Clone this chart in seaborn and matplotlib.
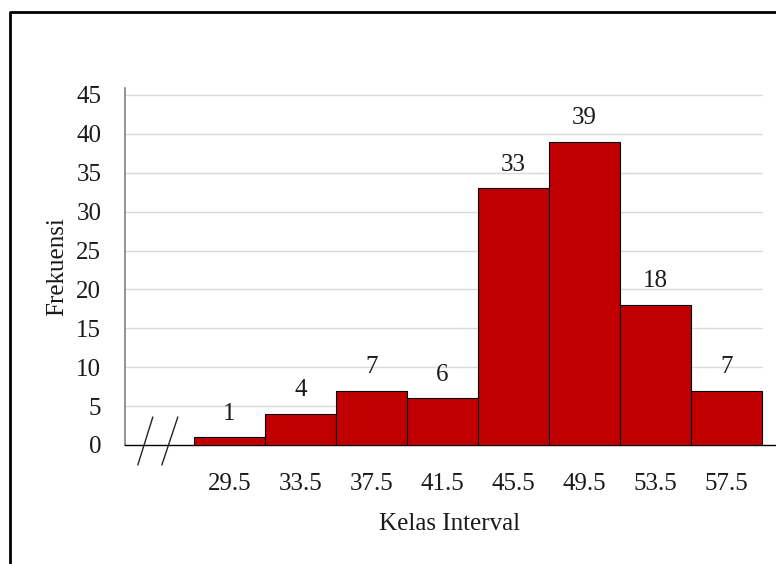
import matplotlib
matplotlib.use("Agg")
import matplotlib.pyplot as plt
from matplotlib.lines import Line2D
import seaborn as sns
import pandas as pd

# Class midpoints and frequencies
kelas = ["29.5", "33.5", "37.5", "41.5", "45.5", "49.5", "53.5", "57.5"]
frekuensi = [1, 4, 7, 6, 33, 39, 18, 7]
y_ticks = [0, 5, 10, 15, 20, 25, 30, 35, 40, 45]

sns.set_theme(style="white")
plt.rcParams["font.family"] = ["Liberation Serif", "DejaVu Serif"]

FS = 18
TXT = "#1a1a1a"

df = pd.DataFrame({"Kelas": kelas, "Frekuensi": frekuensi})

fig = plt.figure(figsize=(7.76, 5.64), dpi=100)
ax = fig.add_axes([0.161, 0.211, 0.8377, 0.633])

sns.barplot(data=df, x="Kelas", y="Frekuensi", color="#C00000",
            saturation=1, width=1.0, edgecolor="black", linewidth=0.8,
            ax=ax, zorder=3)

x_left, x_right = -1.47, 7.68
ax.set_xlim(x_left, x_right)
ax.set_ylim(0, 45.9)

# horizontal gridlines across the bar area
ax.hlines(y_ticks[1:], x_left, len(kelas) - 0.5, colors="#d9d9d9",
          linewidth=1, zorder=1)

ax.set_yticks(y_ticks)
ax.tick_params(axis="y", length=0, pad=17, labelsize=FS, colors=TXT)
ax.tick_params(axis="x", length=0, pad=20, labelsize=FS, colors=TXT)

for s in ["top", "right"]:
    ax.spines[s].set_visible(False)
ax.spines["left"].set_color("#808080")
ax.spines["left"].set_linewidth(1.2)
ax.spines["bottom"].set_color("#000000")
ax.spines["bottom"].set_linewidth(1.0)

ax.set_xlabel("Kelas Interval", fontsize=FS, color=TXT, labelpad=13)
ax.set_ylabel("Frekuensi", fontsize=FS, color=TXT, labelpad=6)

# value labels above bars
for i, v in enumerate(frekuensi):
    ax.annotate(str(v), (i, v), xytext=(0, 9), textcoords="offset points",
                ha="center", va="bottom", fontsize=FS, color=TXT)

# axis-break marks near the origin
px2x = lambda px: (px - 229.5) / 71.0
py2y = lambda py: (445 - py) / 7.78
for (x0, y0, x1, y1) in [(153, 417, 138, 465), (178, 417, 162, 465)]:
    ax.add_line(Line2D([px2x(x0), px2x(x1)], [py2y(y0), py2y(y1)],
                       color="#222222", linewidth=1.0, clip_on=False))

# outer frame (left and top edges)
fx = 9.5 / 776
fy = 1 - 11.5 / 564
fig.add_artist(Line2D([fx, fx, 1.0], [0.0, fy, fy], transform=fig.transFigure,
                      color="black", linewidth=2.0))

fig.savefig("out.png", dpi=100)
